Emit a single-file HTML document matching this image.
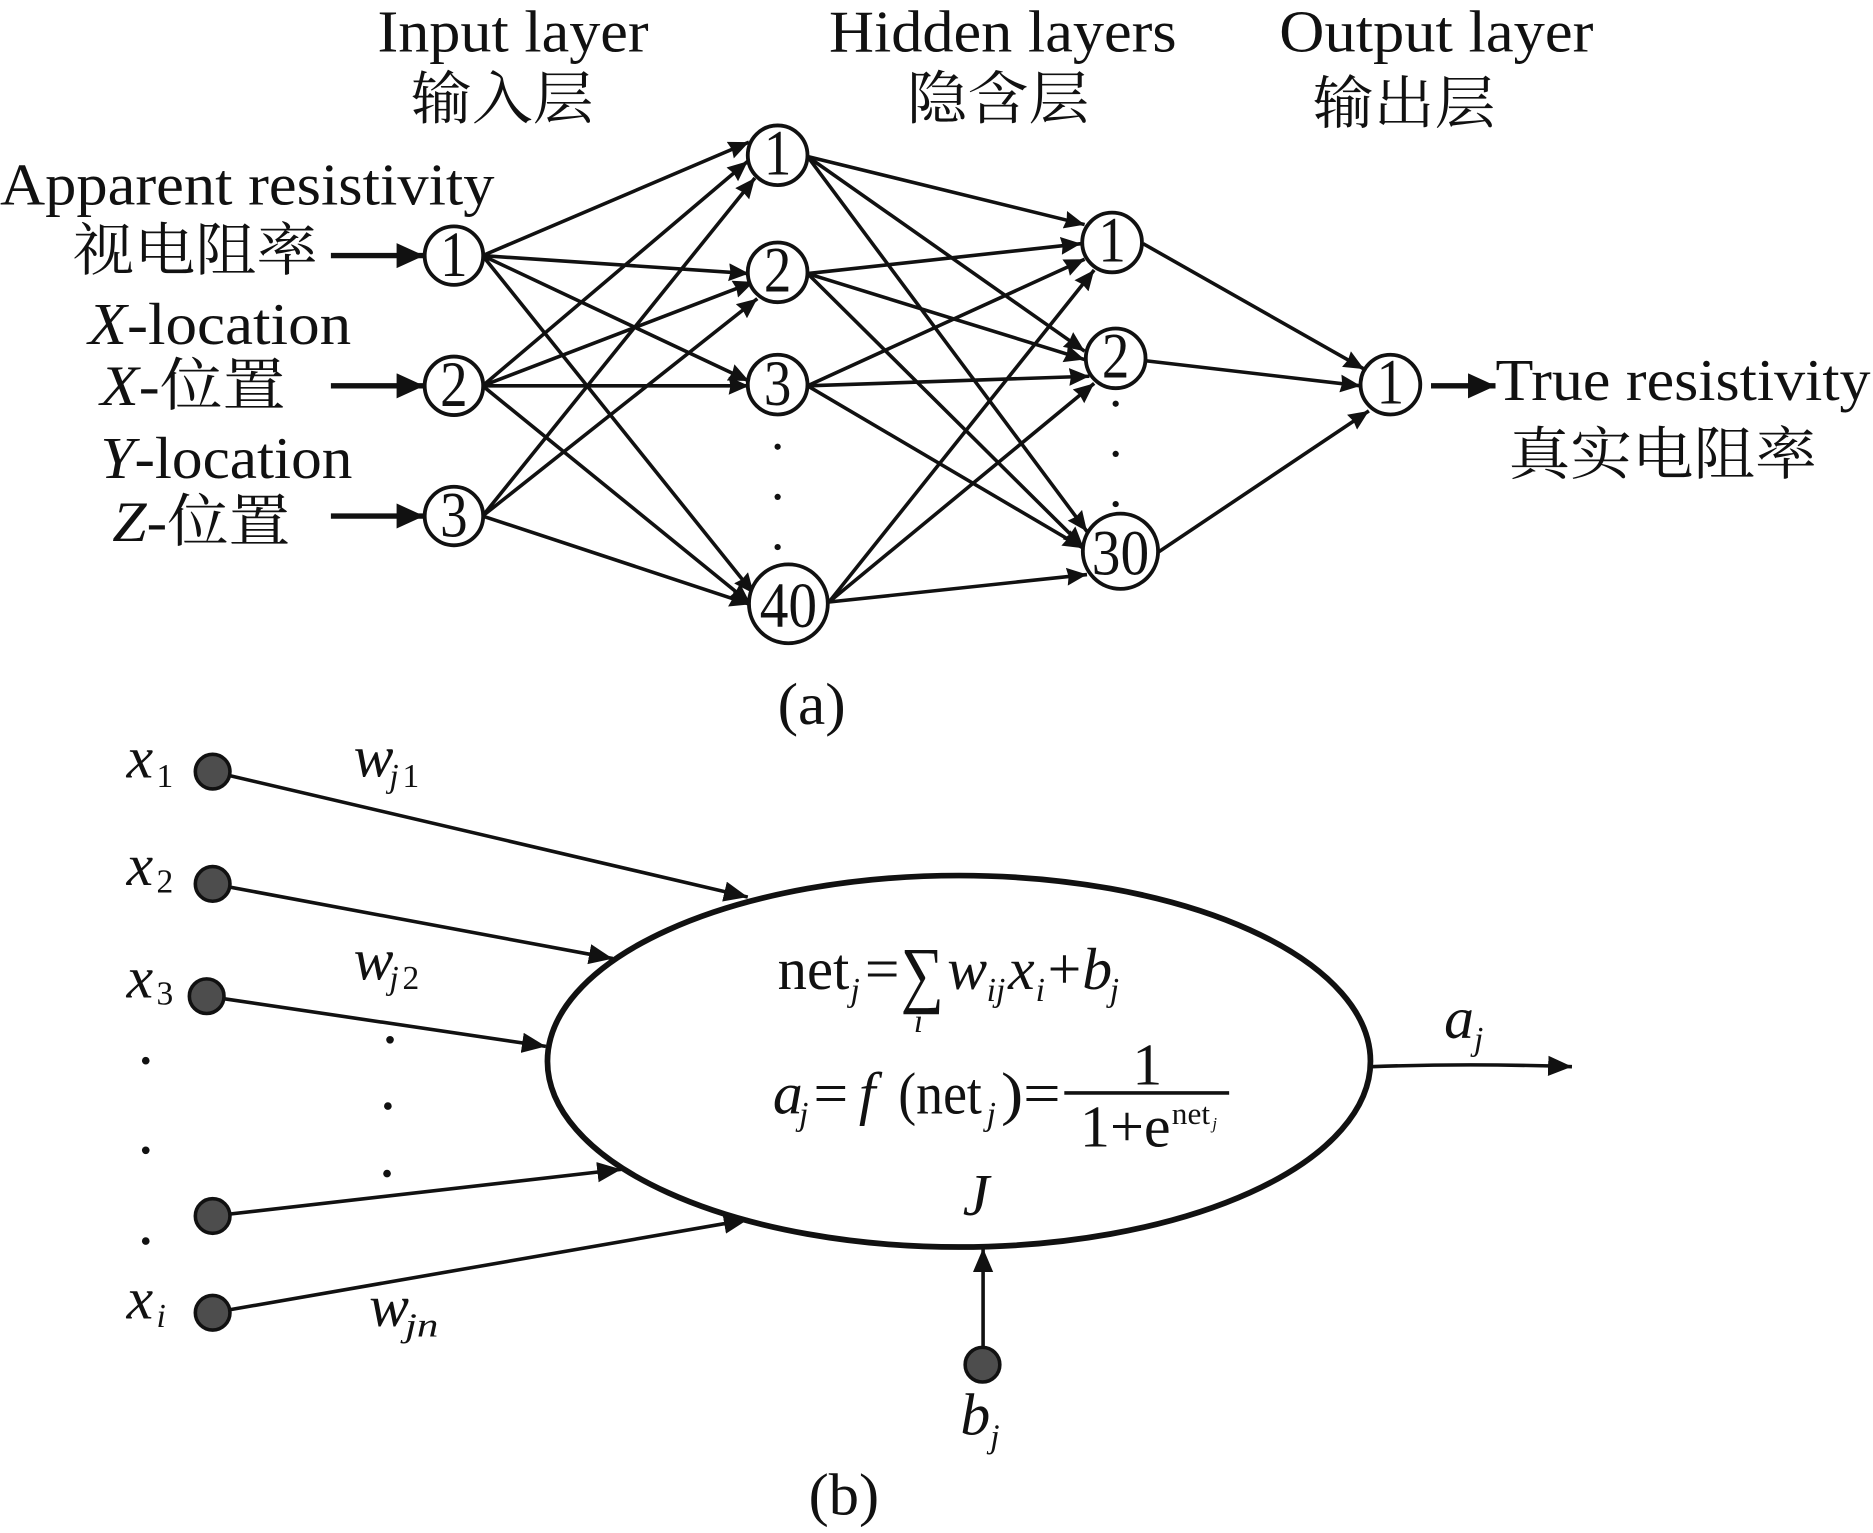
<!DOCTYPE html>
<html><head><meta charset="utf-8"><style>
html,body{margin:0;padding:0;background:#fff}
svg{display:block}
text{font-family:"Liberation Serif","Noto Serif CJK SC",serif;fill:#111}
.t{font-size:50px}.c{font-size:48px}.i{font-style:italic}
.n{font-size:54px;text-anchor:middle}
.s{font-size:28px;font-style:italic}
.r{font-size:28px}
.l line,.l path{stroke:#111;fill:none}
circle.k{fill:#fff;stroke:#111;stroke-width:3.2}
circle.d{fill:#4d4d4d;stroke:#111;stroke-width:3}
</style></head><body>
<svg width="1873" height="1533" viewBox="0 0 1568 1283.4" xmlns="http://www.w3.org/2000/svg">
<defs>
<marker id="a" markerUnits="userSpaceOnUse" markerWidth="20" markerHeight="16" refX="17" refY="7.5" orient="auto"><path d="M0 0L17 7.5L0 15L1.5 7.5Z" fill="#111"/></marker>
<marker id="b" markerUnits="userSpaceOnUse" markerWidth="26" markerHeight="24" refX="23" refY="10.5" orient="auto"><path d="M0 0L23 10.5L0 21Z" fill="#111"/></marker>
<marker id="c" markerUnits="userSpaceOnUse" markerWidth="22" markerHeight="20" refX="20" refY="8.5" orient="auto"><path d="M0 0L20 8.5L0 17Z" fill="#111"/></marker>
</defs>
<g class="l" stroke-width="3">
<line x1="404" y1="214" x2="627" y2="119" marker-end="url(#a)"/>
<line x1="404" y1="214" x2="627" y2="229" marker-end="url(#a)"/>
<line x1="404" y1="214" x2="627" y2="319" marker-end="url(#a)"/>
<line x1="404" y1="214" x2="631" y2="497" marker-end="url(#a)"/>
<line x1="404" y1="323" x2="626" y2="135" marker-end="url(#a)"/>
<line x1="404" y1="323" x2="631" y2="236" marker-end="url(#a)"/>
<line x1="404" y1="323" x2="627" y2="323" marker-end="url(#a)"/>
<line x1="404" y1="323" x2="628" y2="505" marker-end="url(#a)"/>
<line x1="404" y1="432" x2="632" y2="149" marker-end="url(#a)"/>
<line x1="404" y1="432" x2="634" y2="250" marker-end="url(#a)"/>
<line x1="404" y1="432" x2="628" y2="506" marker-end="url(#a)"/>
<line x1="676" y1="131" x2="908" y2="188" marker-end="url(#a)"/>
<line x1="676" y1="131" x2="908" y2="294" marker-end="url(#a)"/>
<line x1="676" y1="131" x2="910" y2="445" marker-end="url(#a)"/>
<line x1="676" y1="229" x2="905" y2="204" marker-end="url(#a)"/>
<line x1="676" y1="229" x2="908" y2="301" marker-end="url(#a)"/>
<line x1="676" y1="229" x2="907" y2="458" marker-end="url(#a)"/>
<line x1="676" y1="323" x2="908" y2="217" marker-end="url(#a)"/>
<line x1="676" y1="323" x2="912" y2="315" marker-end="url(#a)"/>
<line x1="676" y1="323" x2="907" y2="459" marker-end="url(#a)"/>
<line x1="694" y1="504" x2="916" y2="226" marker-end="url(#a)"/>
<line x1="694" y1="504" x2="916" y2="321" marker-end="url(#a)"/>
<line x1="694" y1="504" x2="910" y2="481" marker-end="url(#a)"/>
<line x1="957" y1="204" x2="1142" y2="309" marker-end="url(#a)"/>
<line x1="959" y1="302" x2="1139" y2="323" marker-end="url(#a)"/>
<line x1="970" y1="462" x2="1146" y2="344" marker-end="url(#a)"/>
</g>
<g class="l" stroke-width="4.5">
<line x1="277" y1="214" x2="355" y2="214" marker-end="url(#b)"/>
<line x1="277" y1="323" x2="355" y2="323" marker-end="url(#b)"/>
<line x1="277" y1="432" x2="355" y2="432" marker-end="url(#b)"/>
<line x1="1198" y1="323" x2="1252" y2="323" marker-end="url(#b)"/>
</g>
<circle class="k" cx="380" cy="214" r="24.5"/><circle class="k" cx="380" cy="323" r="24.5"/><circle class="k" cx="380" cy="432" r="24.5"/>
<circle class="k" cx="651" cy="130" r="25"/><circle class="k" cx="651" cy="228" r="25"/><circle class="k" cx="651" cy="322" r="25"/><circle class="k" cx="660" cy="505.5" r="33"/>
<circle class="k" cx="931" cy="203" r="25"/><circle class="k" cx="934" cy="300" r="25"/><circle class="k" cx="938" cy="461.5" r="31.5"/>
<circle class="k" cx="1164" cy="322" r="25"/>
<text class="n" x="380" y="231" textLength="23" lengthAdjust="spacingAndGlyphs">1</text><text class="n" x="380" y="340" textLength="23" lengthAdjust="spacingAndGlyphs">2</text><text class="n" x="380" y="449" textLength="23" lengthAdjust="spacingAndGlyphs">3</text>
<text class="n" x="651" y="146" textLength="23" lengthAdjust="spacingAndGlyphs">1</text><text class="n" x="651" y="244" textLength="23" lengthAdjust="spacingAndGlyphs">2</text><text class="n" x="651" y="339" textLength="23" lengthAdjust="spacingAndGlyphs">3</text><text class="n" x="660" y="525" textLength="48" lengthAdjust="spacingAndGlyphs">40</text>
<text class="n" x="931" y="219" textLength="23" lengthAdjust="spacingAndGlyphs">1</text><text class="n" x="934" y="316" textLength="23" lengthAdjust="spacingAndGlyphs">2</text><text class="n" x="938" y="481" textLength="48" lengthAdjust="spacingAndGlyphs">30</text>
<text class="n" x="1164" y="338" textLength="23" lengthAdjust="spacingAndGlyphs">1</text>
<g fill="#111"><circle cx="651" cy="374" r="2.6"/><circle cx="651" cy="416" r="2.6"/><circle cx="651" cy="458" r="2.6"/>
<circle cx="934" cy="338" r="2.6"/><circle cx="934" cy="380" r="2.6"/><circle cx="934" cy="422" r="2.6"/></g>

<text class="t" x="316" y="43" textLength="227" lengthAdjust="spacingAndGlyphs">Input layer</text>
<text class="c" x="344" y="99" textLength="153" lengthAdjust="spacingAndGlyphs">输入层</text>
<text class="t" x="694" y="43" textLength="291" lengthAdjust="spacingAndGlyphs">Hidden layers</text>
<text class="c" x="759" y="99" textLength="153" lengthAdjust="spacingAndGlyphs">隐含层</text>
<text class="t" x="1071" y="43" textLength="263" lengthAdjust="spacingAndGlyphs">Output layer</text>
<text class="c" x="1099" y="103" textLength="153" lengthAdjust="spacingAndGlyphs">输出层</text>
<text class="t" x="0" y="171" textLength="414" lengthAdjust="spacingAndGlyphs">Apparent resistivity</text>
<text class="c" x="61" y="226" textLength="205" lengthAdjust="spacingAndGlyphs">视电阻率</text>
<text class="t" x="74" y="288" textLength="220" lengthAdjust="spacingAndGlyphs"><tspan class="i">X</tspan>-location</text>
<text class="c" x="84" y="339" textLength="155" lengthAdjust="spacingAndGlyphs"><tspan class="i">X</tspan>-位置</text>
<text class="t" x="84" y="400" textLength="211" lengthAdjust="spacingAndGlyphs"><tspan class="i">Y</tspan>-location</text>
<text class="c" x="94" y="453" textLength="149" lengthAdjust="spacingAndGlyphs"><tspan class="i">Z</tspan>-位置</text>
<text class="t" x="1252" y="335" textLength="314" lengthAdjust="spacingAndGlyphs">True resistivity</text>
<text class="c" x="1263" y="397" textLength="258" lengthAdjust="spacingAndGlyphs">真实电阻率</text>
<text class="t" x="651" y="606" textLength="57" lengthAdjust="spacingAndGlyphs">(a)</text>
<text class="t" x="677" y="1268" textLength="59" lengthAdjust="spacingAndGlyphs">(b)</text>

<g class="l" stroke-width="3">
<line x1="178" y1="646" x2="626" y2="751" marker-end="url(#c)"/>
<line x1="178" y1="740" x2="513" y2="802.5" marker-end="url(#c)"/>
<line x1="173" y1="834" x2="457" y2="876" marker-end="url(#c)"/>
<line x1="178" y1="1018" x2="520" y2="979" marker-end="url(#c)"/>
<line x1="178" y1="1099" x2="626" y2="1021" marker-end="url(#c)"/>
<line x1="823" y1="1142" x2="823" y2="1045" marker-end="url(#c)"/>
<path d="M1148 893Q1230 890 1316 893" marker-end="url(#c)"/>
</g>
<ellipse cx="802.8" cy="888.5" rx="344.5" ry="155.5" fill="none" stroke="#111" stroke-width="4.8"/>
<circle class="d" cx="178" cy="646" r="14.5"/><circle class="d" cx="178" cy="740" r="14.5"/><circle class="d" cx="173" cy="834" r="14.5"/>
<circle class="d" cx="178" cy="1018" r="14.5"/><circle class="d" cx="178" cy="1099" r="14.5"/><circle class="d" cx="822.5" cy="1142.5" r="14.5"/>
<g fill="#111"><circle cx="122" cy="888" r="3.2"/><circle cx="122" cy="963" r="3.2"/><circle cx="122" cy="1039" r="3.2"/>
<circle cx="326.5" cy="870.5" r="3.2"/><circle cx="324.7" cy="926" r="3.2"/><circle cx="324" cy="982.5" r="3.2"/></g>

<text class="t i" x="106" y="651">x</text><text class="r" x="131" y="659">1</text>
<text class="t i" x="106" y="741">x</text><text class="r" x="131" y="747">2</text>
<text class="t i" x="106" y="835">x</text><text class="r" x="131" y="841">3</text>
<text class="t i" x="106" y="1104">x</text><text class="s" x="131" y="1111">i</text>
<text class="t i" x="296" y="650">w</text><text class="s" x="326" y="659">j</text><text class="r" x="337" y="659">1</text>
<text class="t i" x="296" y="820">w</text><text class="s" x="326" y="828">j</text><text class="r" x="337" y="828">2</text>
<text class="t i" x="309" y="1110">w</text><text class="s" x="339" y="1119" textLength="28" lengthAdjust="spacingAndGlyphs">jn</text>
<text class="t i" x="1209" y="869">a</text><text class="s" x="1234" y="879">j</text>
<text class="t i" x="804" y="1201">b</text><text class="s" x="829" y="1212">j</text>

<text class="t" x="651" y="828" textLength="60" lengthAdjust="spacingAndGlyphs">net</text><text class="s" x="712" y="838">j</text>
<text class="t" x="724" y="828" textLength="29" lengthAdjust="spacingAndGlyphs">=</text>
<text x="754" y="836" style="font-size:62px" textLength="36" lengthAdjust="spacingAndGlyphs">∑</text>
<text class="s" x="765" y="864">i</text>
<text class="t i" x="793" y="828">w</text><text class="s" x="826" y="838">ij</text>
<text class="t i" x="844" y="828">x</text><text class="s" x="867" y="838">i</text>
<text class="t" x="877" y="828">+</text>
<text class="t i" x="906" y="828">b</text><text class="s" x="929" y="838">j</text>
<text class="t i" x="647" y="932">a</text><text class="s" x="669" y="942">j</text>
<text class="t" x="681" y="932" textLength="29" lengthAdjust="spacingAndGlyphs">=</text>
<text class="t i" x="719" y="932">f</text>
<text class="t" x="752" y="932" textLength="70" lengthAdjust="spacingAndGlyphs">(net</text><text class="s" x="826" y="942">j</text>
<text class="t" x="838" y="932" textLength="50" lengthAdjust="spacingAndGlyphs">)=</text>
<rect x="891" y="913.5" width="138" height="3" fill="#111"/>
<text class="t" x="948" y="908">1</text>
<text class="t" x="904" y="960" textLength="76" lengthAdjust="spacingAndGlyphs">1+e</text>
<text x="981" y="941" style="font-size:26px" textLength="32" lengthAdjust="spacingAndGlyphs">net</text><text x="1015" y="945" style="font-size:14px;font-style:italic">j</text>
<text class="t i" x="806" y="1017">J</text>
</svg>
</body></html>
